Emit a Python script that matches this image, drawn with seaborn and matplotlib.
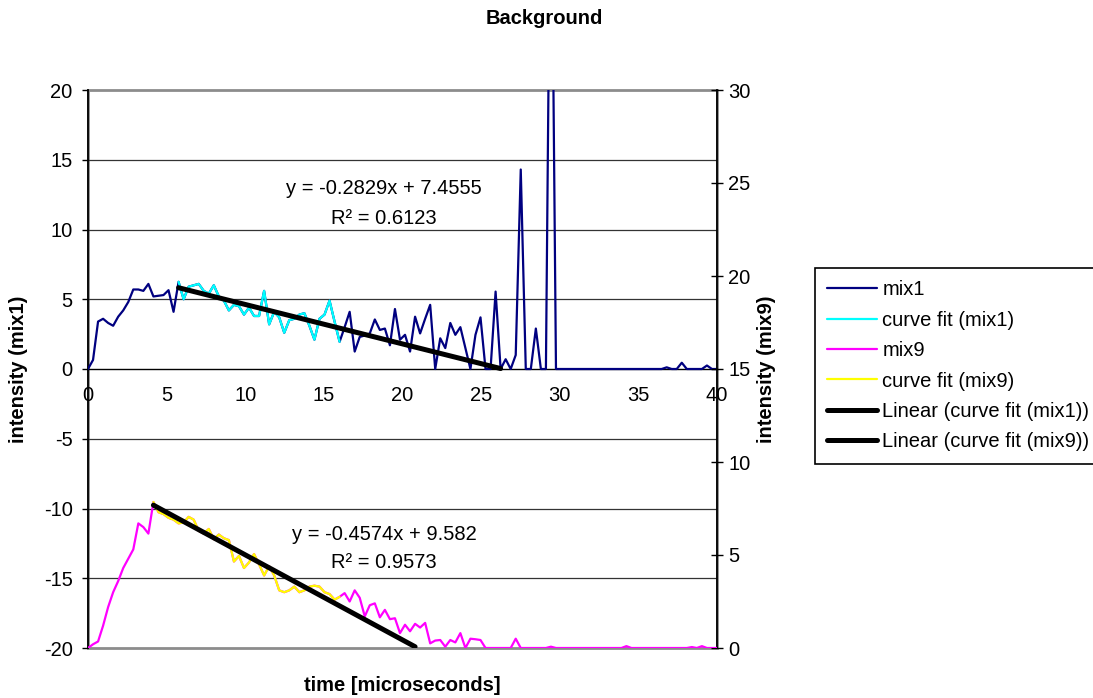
import numpy as np
import pandas as pd
import matplotlib
matplotlib.use("Agg")
import matplotlib.pyplot as plt
import seaborn as sns
from matplotlib.lines import Line2D
from matplotlib.patches import Rectangle

# ---------------- data ----------------
DT = 0.32  # sampling step in microseconds

mix1 = [0, 0.65, 3.4, 3.6, 3.3, 3.1, 3.75, 4.2, 4.8, 5.7,
        5.7, 5.6, 6.1, 5.2, 5.25, 5.3, 5.65, 4.1, 6.25, 5.0,
        5.9, 6.0, 6.1, 5.6, 5.4, 6.0, 5.2, 4.9, 4.2, 4.6,
        4.5, 3.9, 4.4, 3.8, 3.8, 5.6, 3.2, 4.1, 3.7, 2.6,
        3.5, 3.6, 3.9, 4.0, 3.1, 2.1, 3.6, 3.9, 4.9, 3.4,
        1.95, 3.0, 4.1, 1.25, 2.3, 2.4, 2.55, 3.55, 2.8, 2.9,
        1.7, 4.3, 2.1, 2.45, 1.25, 3.75, 2.55, 3.6, 4.6, 0,
        2.2, 1.5, 3.3, 2.45, 3.0, 1.5, 0, 2.45, 3.7, 0,
        0, 5.55, 0, 0.7, 0, 1.0, 14.3, 0, 0, 2.9,
        0, 0, 40.0, 0, 0, 0, 0, 0, 0, 0,
        0, 0, 0, 0, 0, 0, 0, 0, 0, 0,
        0, 0, 0, 0, 0, 0.12, 0, 0, 0.45, 0,
        0, 0, 0, 0.25, 0, 0]

mix9 = [0, 0.2, 0.35, 1.2, 2.2, 3.0, 3.6, 4.3, 4.8, 5.3,
        6.7, 6.5, 6.15, 7.85, 7.3, 7.2, 7.0, 6.9, 6.7, 6.75,
        7.05, 6.9, 6.3, 6.15, 6.4, 5.85, 6.1, 5.9, 5.8, 4.65,
        4.95, 4.3, 4.6, 5.05, 4.5, 3.9, 4.4, 3.9, 3.1, 3.0,
        3.1, 3.3, 3.0, 3.1, 3.3, 3.35, 3.3, 3.0, 2.9, 2.6,
        2.75, 2.95, 2.5, 3.1, 2.7, 1.7, 2.3, 2.4, 1.65, 2.05,
        1.55, 1.6, 0.8, 1.25, 0.9, 1.3, 1.1, 1.35, 0.25, 0.4,
        0.43, 0.07, 0.43, 0.3, 0.8, 0, 0.5, 0.47, 0.43, 0,
        0, 0, 0, 0, 0, 0.5, 0, 0, 0, 0,
        0, 0, 0.07, 0, 0, 0, 0, 0, 0, 0,
        0, 0, 0, 0, 0, 0, 0, 0.1, 0, 0,
        0, 0, 0, 0, 0, 0, 0, 0, 0, 0,
        0.05, 0, 0.1, 0, 0, 0]

# index ranges of the "curve fit" sub-series
cf1_range = (18, 50)
cf9_range = (13, 50)

# linear trend lines: slope, intercept, x-extent
trend_slopes = [-0.2829, -0.4574]
trend_intercepts = [7.4555, 9.582]
trend_x_ranges = [(5.76, 26.24), (4.16, 20.8)]
trend_r2 = [0.6123, 0.9573]

labels = ["mix1", "curve fit (mix1)", "mix9", "curve fit (mix9)",
          "Linear (curve fit (mix1))", "Linear (curve fit (mix9))"]

x_ticks = [0, 5, 10, 15, 20, 25, 30, 35, 40]
left_ticks = [-20, -15, -10, -5, 0, 5, 10, 15, 20]
right_ticks = [0, 5, 10, 15, 20, 25, 30]

# ---------------- style ----------------
sns.set_style("white")
plt.rcParams["font.family"] = ["Liberation Sans", "DejaVu Sans"]
plt.rcParams["text.color"] = "black"
plt.rcParams["axes.labelcolor"] = "black"
plt.rcParams["xtick.color"] = "black"
plt.rcParams["ytick.color"] = "black"
FS = 14.5

C_MIX1 = "#000080"
C_CF1 = "#00FFFF"
C_MIX9 = "#FF00FF"
C_CF9 = "#FFFF00"

t = np.round(np.arange(len(mix1)) * DT, 2)
df = pd.DataFrame({"time": t, "mix1": mix1, "mix9": mix9})
cf1 = df.iloc[cf1_range[0]:cf1_range[1] + 1]
cf9 = df.iloc[cf9_range[0]:cf9_range[1] + 1]

W, H = 1093, 698
fig = plt.figure(figsize=(W / 100, H / 100), dpi=100)
L, R, T, B = 88, 717, 90, 648
ax = fig.add_axes([L / W, (H - B) / H, (R - L) / W, (B - T) / H])
ax2 = ax.twinx()

lw_data = 1.6
lw_trend = 3.6

sns.lineplot(data=df, x="time", y="mix1", ax=ax, color=C_MIX1, lw=lw_data,
             estimator=None, sort=False, legend=False, zorder=3)
sns.lineplot(data=cf1, x="time", y="mix1", ax=ax, color=C_CF1, lw=lw_data,
             estimator=None, sort=False, legend=False, zorder=4)
x1 = np.array(trend_x_ranges[0])
sns.lineplot(x=x1, y=trend_slopes[0] * x1 + trend_intercepts[0], ax=ax,
             color="black", lw=lw_trend, legend=False, zorder=5)

sns.lineplot(data=df, x="time", y="mix9", ax=ax2, color=C_MIX9, lw=lw_data,
             estimator=None, sort=False, legend=False, zorder=3)
sns.lineplot(data=cf9, x="time", y="mix9", ax=ax2, color=C_CF9, lw=lw_data,
             estimator=None, sort=False, legend=False, zorder=4)
x9 = np.array(trend_x_ranges[1])
sns.lineplot(x=x9, y=trend_slopes[1] * x9 + trend_intercepts[1], ax=ax2,
             color="black", lw=lw_trend, legend=False, zorder=5)

# spines (set position first: it resets the tick settings)
ax.spines["bottom"].set_position(("data", 0))
ax.spines["bottom"].set_color("black")
ax.spines["bottom"].set_linewidth(1.0)
ax.spines["left"].set_color("black")
ax.spines["left"].set_linewidth(1.3)
ax.spines["top"].set_visible(False)
ax.spines["right"].set_visible(False)
for s in ["left", "top", "bottom"]:
    ax2.spines[s].set_visible(False)
ax2.spines["right"].set_color("black")
ax2.spines["right"].set_linewidth(1.3)

# axes limits / ticks
ax.set_xlim(0, 40)
ax.set_ylim(-20, 20)
ax2.set_ylim(0, 30)
ax.set_xticks(x_ticks)
ax.set_xticklabels([str(v) for v in x_ticks])
ax.set_yticks(left_ticks)
ax.set_yticklabels([str(v) for v in left_ticks])
ax2.set_yticks(right_ticks)
ax2.set_yticklabels([str(v) for v in right_ticks])

ax.tick_params(axis="x", direction="out", length=5.5, width=1, pad=7,
               colors="black", labelsize=FS)
ax.tick_params(axis="y", direction="out", length=4, width=1, pad=7,
               colors="black", labelsize=FS)
ax2.tick_params(axis="y", direction="inout", length=8, width=1, pad=4,
                colors="black", labelsize=FS)

# gridlines at inner major ticks
for v in left_ticks[1:-1]:
    if v != 0:
        ax.axhline(v, color="#333333", lw=0.9, zorder=1)

# plot-area frame (grey)
ax.add_patch(Rectangle((0, 0), 1, 1, transform=ax.transAxes, fill=False,
                       ec="#8c8c8c", lw=2.0, clip_on=False, zorder=0))

# axis labels
ax.set_xlabel("time [microseconds]", fontsize=FS, fontweight="bold")
ax.xaxis.set_label_coords(0.5, (B - 676) / (B - T))
ax.set_ylabel("intensity (mix1)", fontsize=FS, fontweight="bold")
ax.yaxis.set_label_coords((28 - L) / (R - L), 0.5)
ax2.set_ylabel("intensity (mix9)", fontsize=FS, fontweight="bold")
ax2.yaxis.set_label_coords((757 - L) / (R - L), 0.5)

# title
fig.text(544 / W, 1 - 18 / H, "Background", ha="center", va="center",
         fontsize=FS, fontweight="bold")

# trend-line equations
eq_pos = [(384, 188, 218), (384, 535, 563)]
for (cx, y_eq, y_r2), m, b, r2 in zip(eq_pos, trend_slopes, trend_intercepts, trend_r2):
    fig.text(cx / W, 1 - y_eq / H, f"y = {m:.4f}x + {b:g}",
             ha="center", va="center", fontsize=FS)
    fig.text(cx / W, 1 - y_r2 / H, f"R\u00b2 = {r2:.4f}",
             ha="center", va="center", fontsize=FS)

# legend
handles = [Line2D([], [], color=C_MIX1, lw=lw_data),
           Line2D([], [], color=C_CF1, lw=lw_data),
           Line2D([], [], color=C_MIX9, lw=lw_data),
           Line2D([], [], color=C_CF9, lw=lw_data),
           Line2D([], [], color="black", lw=lw_trend),
           Line2D([], [], color="black", lw=lw_trend)]
leg = fig.legend(handles, labels, loc="upper left",
                 bbox_to_anchor=(815 / W, 1 - 268 / H), frameon=True,
                 fancybox=False, edgecolor="black", framealpha=1,
                 handlelength=2.5, handletextpad=0.25, labelspacing=0.57,
                 borderpad=0.6, borderaxespad=0, fontsize=FS)
leg.get_frame().set_linewidth(1.2)
for txt in leg.get_texts():
    txt.set_color("black")

fig.savefig("out.png", dpi=100)
